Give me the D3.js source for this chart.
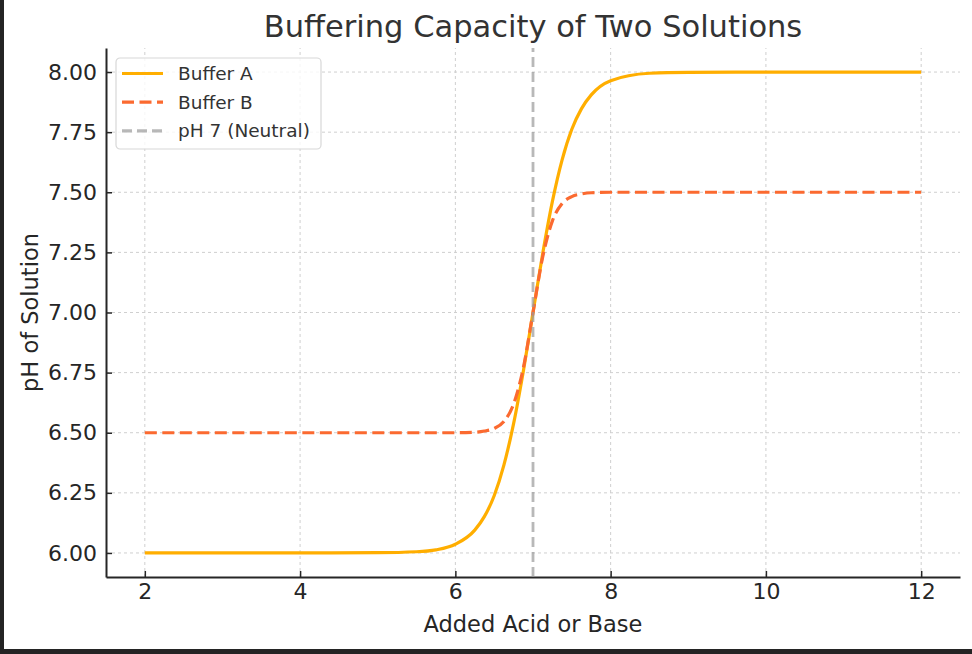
<!DOCTYPE html>
<html>
<head>
<meta charset="utf-8">
<title>Buffering Capacity of Two Solutions</title>
<script src="https://d3js.org/d3.v7.min.js"></script>
<style>
    html, body { margin: 0; padding: 0; background: #fff; }
    svg { display: block; font-family: "DejaVu Sans", sans-serif; }
    .grid line { stroke: #cfcfcf; stroke-width: 1; stroke-dasharray: 3,3; }
    .axis path, .axis line { stroke: #262626; }
    .axis text { fill: #262626; font-size: 22px; font-family: "DejaVu Sans", sans-serif; }
</style>
</head>
<body>
<div id="chart"></div>
<script>
// data
const addedAmount = [2, 3, 4, 5, 5.5, 5.75, 6, 6.25, 6.375, 6.5, 6.625, 6.75, 6.875,
    7, 7.125, 7.25, 7.375, 7.5, 7.625, 7.75, 8, 8.5, 9, 10, 11, 12];
const bufferA = [6.000, 6.000, 6.000, 6.001, 6.005, 6.013, 6.036, 6.095, 6.152, 6.238, 6.365, 6.538, 6.755,
    7.000, 7.245, 7.462, 7.635, 7.762, 7.848, 7.905, 7.964, 7.995, 7.999, 8.000, 8.000, 8.000];
const bufferB = [6.500, 6.500, 6.500, 6.500, 6.500, 6.500, 6.500, 6.502, 6.507, 6.518, 6.547, 6.619, 6.769,
    7.000, 7.231, 7.381, 7.453, 7.482, 7.493, 7.498, 7.500, 7.500, 7.500, 7.500, 7.500, 7.500];
const neutralX = 7;
const xTicks = [2, 4, 6, 8, 10, 12];
const yTicks = [6.00, 6.25, 6.50, 6.75, 7.00, 7.25, 7.50, 7.75, 8.00];
const seriesNames = ["Buffer A", "Buffer B", "pH 7 (Neutral)"];

const width = 972, height = 654;
const margin = {top: 48, right: 12, bottom: 77, left: 106};

const svg = d3.select("#chart").append("svg")
    .attr("width", width)
    .attr("height", height);

// dark screenshot edge on the left and bottom
svg.append("rect").attr("x", 0).attr("y", 0).attr("width", 4).attr("height", height).attr("fill", "#242424");
svg.append("rect").attr("x", 0).attr("y", height - 5).attr("width", width).attr("height", 5).attr("fill", "#242424");

const x = d3.scaleLinear().domain([1.5, 12.5]).range([margin.left, width - margin.right]);
const y = d3.scaleLinear().domain([5.9, 8.1]).range([height - margin.bottom, margin.top]);

// grid
svg.append("g").attr("class", "grid")
    .selectAll("line").data(xTicks).join("line")
    .attr("x1", d => x(d)).attr("x2", d => x(d))
    .attr("y1", y.range()[0]).attr("y2", y.range()[1]);
svg.append("g").attr("class", "grid")
    .selectAll("line").data(yTicks).join("line")
    .attr("x1", x.range()[0]).attr("x2", x.range()[1])
    .attr("y1", d => y(d)).attr("y2", d => y(d));

// axes (ticks point inward)
const xAxis = svg.append("g").attr("class", "axis")
    .attr("transform", `translate(0,${height - margin.bottom})`)
    .call(d3.axisBottom(x).tickValues(xTicks).tickSizeInner(-6).tickSizeOuter(0).tickPadding(6));
const yAxis = svg.append("g").attr("class", "axis")
    .attr("transform", `translate(${margin.left},0)`)
    .call(d3.axisLeft(y).tickValues(yTicks).tickFormat(d3.format(".2f")).tickSizeInner(-6).tickSizeOuter(0).tickPadding(9));
xAxis.select(".domain").attr("stroke-width", 2);
yAxis.select(".domain").attr("stroke-width", 2);
svg.selectAll(".axis .tick line").attr("stroke-width", 1.5);

// lines
const line = d3.line()
    .x((d, i) => x(addedAmount[i]))
    .y(d => y(d))
    .curve(d3.curveMonotoneX);

svg.append("path").datum(bufferA)
    .attr("fill", "none")
    .attr("stroke", "#ffae00")
    .attr("stroke-width", 3.2)
    .attr("d", line);

svg.append("path").datum(bufferB)
    .attr("fill", "none")
    .attr("stroke", "#fb6a30")
    .attr("stroke-width", 3.2)
    .attr("stroke-dasharray", "12,5.5")
    .attr("d", line);

svg.append("line")
    .attr("x1", x(neutralX)).attr("x2", x(neutralX))
    .attr("y1", y.range()[0]).attr("y2", y.range()[1])
    .attr("stroke", "#9a9a9a")
    .attr("stroke-opacity", 0.7)
    .attr("stroke-width", 2.8)
    .attr("stroke-dasharray", "10,5");

// title & labels
svg.append("text")
    .attr("x", (x.range()[0] + x.range()[1]) / 2)
    .attr("y", 37)
    .attr("text-anchor", "middle")
    .attr("fill", "#333")
    .attr("font-size", 30.5)
    .text("Buffering Capacity of Two Solutions");

svg.append("text")
    .attr("x", (x.range()[0] + x.range()[1]) / 2)
    .attr("y", 632)
    .attr("text-anchor", "middle")
    .attr("fill", "#262626")
    .attr("font-size", 22.5)
    .text("Added Acid or Base");

svg.append("text")
    .attr("transform", `translate(38,${(y.range()[0] + y.range()[1]) / 2}) rotate(-90)`)
    .attr("text-anchor", "middle")
    .attr("fill", "#262626")
    .attr("font-size", 22.5)
    .text("pH of Solution");

// legend
const legend = svg.append("g").attr("transform", "translate(116,58)");
legend.append("rect")
    .attr("width", 205).attr("height", 91)
    .attr("rx", 4)
    .attr("fill", "#fff").attr("fill-opacity", 0.8)
    .attr("stroke", "#d8d8d8").attr("stroke-width", 1.2);

const legendStyles = [
    {stroke: "#ffae00", dash: null, opacity: 1},
    {stroke: "#fb6a30", dash: "12,5.5", opacity: 1},
    {stroke: "#9a9a9a", dash: "10,5", opacity: 0.7}
];
seriesNames.forEach((name, i) => {
    const row = legend.append("g").attr("transform", `translate(0,${15.5 + i * 28.7})`);
    row.append("line")
        .attr("x1", 6).attr("x2", 47)
        .attr("stroke", legendStyles[i].stroke)
        .attr("stroke-opacity", legendStyles[i].opacity)
        .attr("stroke-width", 3.2)
        .attr("stroke-dasharray", legendStyles[i].dash);
    row.append("text")
        .attr("x", 62).attr("y", 6.5)
        .attr("fill", "#333")
        .attr("font-size", 18.5)
        .text(name);
});
</script>
</body>
</html>
